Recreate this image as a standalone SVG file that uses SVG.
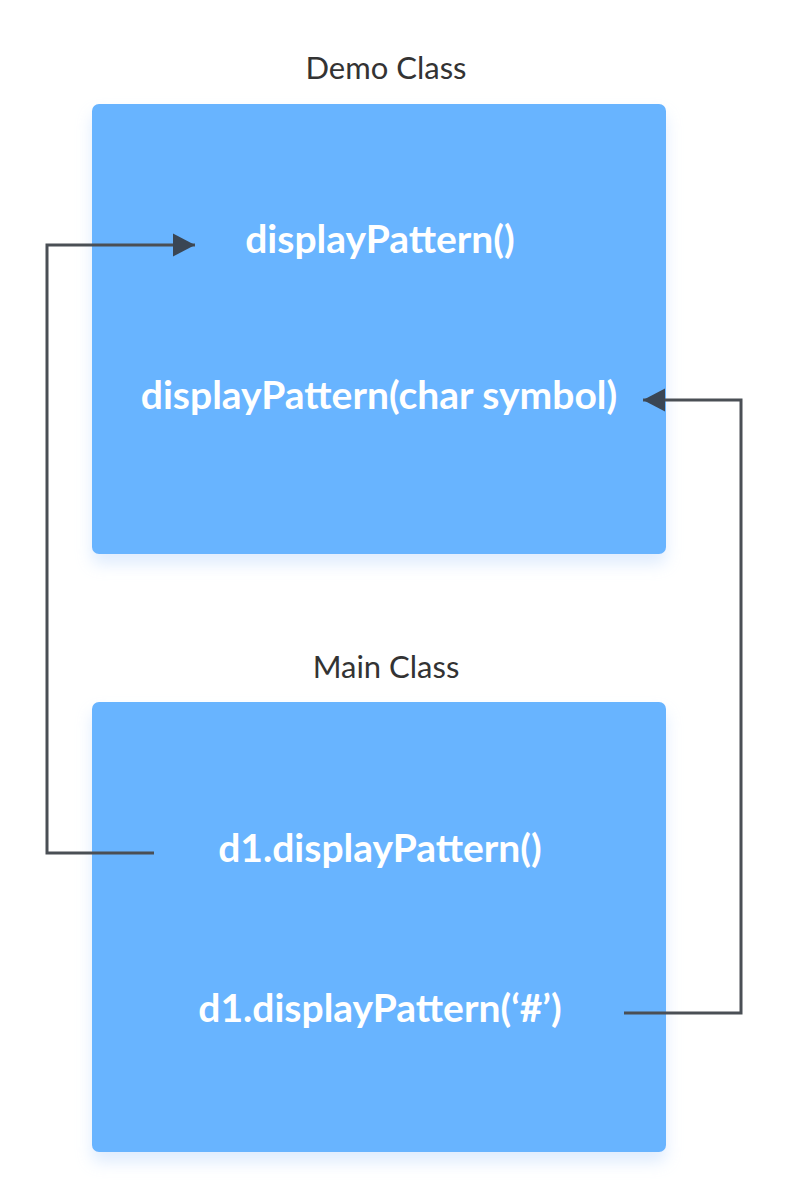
<svg xmlns="http://www.w3.org/2000/svg" width="788" height="1200" viewBox="0 0 788 1200">
<style>
.box{fill:#68b4ff}
.title{font-family:Lato,"Liberation Sans",sans-serif;font-size:31px;fill:#333333;text-anchor:middle}
.label{font-family:Lato,"Liberation Sans",sans-serif;font-size:39px;font-weight:bold;fill:#ffffff;text-anchor:middle}
.conn{fill:none;stroke:#4a4f55;stroke-width:3}
</style>
<defs>
<filter id="sh" x="-10%" y="-10%" width="120%" height="130%">
<feDropShadow dx="0" dy="10" stdDeviation="8" flood-color="#b8d4fb" flood-opacity="0.45"/>
</filter>
<marker id="arr" markerUnits="userSpaceOnUse" markerWidth="24" markerHeight="24" refX="22" refY="12" orient="auto">
<path d="M0,0.5 L22,12 L0,23.5 Z" fill="#3a4654"/>
</marker>
</defs>
<rect width="788" height="1200" fill="#ffffff"/>
<g id="demo">
<text class="title" x="386" y="79">Demo Class</text>
<rect class="box" x="92" y="104" width="574" height="450" rx="7" filter="url(#sh)"/>
<text class="label" x="380" y="253">displayPattern()</text>
<text class="label" x="379" y="409">displayPattern(char symbol)</text>
</g>
<g id="main">
<text class="title" x="386" y="678">Main Class</text>
<rect class="box" x="92" y="702" width="574" height="450" rx="7" filter="url(#sh)"/>
<text class="label" x="380" y="862">d1.displayPattern()</text>
<text class="label" x="380" y="1022">d1.displayPattern(‘#’)</text>
</g>
<g id="connectors">
<path class="conn" d="M154,853 H47 V245 H195" marker-end="url(#arr)"/>
<path class="conn" d="M624,1013 H741 V400 H643" marker-end="url(#arr)"/>
</g>
</svg>
